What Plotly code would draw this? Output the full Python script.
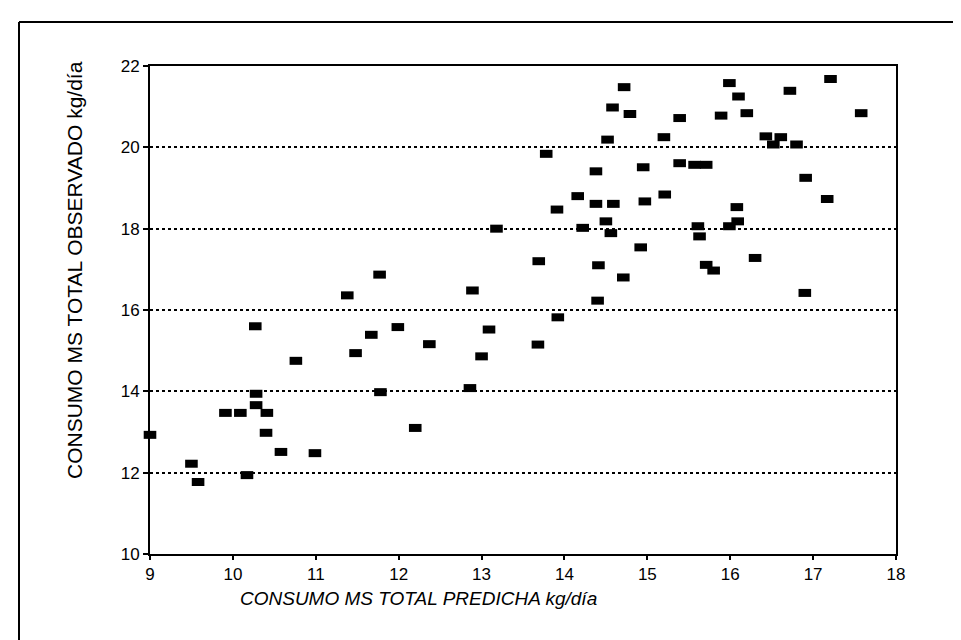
import plotly.graph_objects as go

# Predicted intake (x) and observed intake (y), kg/día
pred = [11.77, 11.38, 12.89, 10.27, 11.67, 11.99, 11.48, 10.76, 12.37, 13.09,
        13.00, 12.86, 11.78, 10.28, 10.28, 9.91, 10.09, 10.41, 12.20, 10.40,
        9.00, 10.58, 10.99, 9.50, 9.58, 10.17, 13.18,
        14.72, 15.99, 17.21, 16.72, 16.10, 14.58, 14.79, 15.39, 15.89, 16.20,
        17.58, 14.52, 15.20, 16.43, 16.61, 16.52, 16.80, 13.78, 14.38, 14.95,
        15.39, 15.57, 15.71, 16.91, 14.16, 13.91, 14.38, 14.59, 14.97, 15.21,
        16.08, 17.17, 14.22, 14.50, 14.56, 15.61, 15.63, 15.99, 16.09, 14.92,
        13.69, 14.41, 15.71, 15.80, 16.30, 14.71, 16.90, 14.40, 13.92, 13.68]
obs = [16.87, 16.36, 16.48, 15.60, 15.39, 15.58, 14.94, 14.75, 15.16, 15.52,
       14.86, 14.08, 13.98, 13.94, 13.66, 13.47, 13.47, 13.47, 13.10, 12.98,
       12.93, 12.51, 12.48, 12.22, 11.77, 11.94, 18.00,
       21.48, 21.58, 21.68, 21.39, 21.25, 20.98, 20.82, 20.72, 20.78, 20.84,
       20.84, 20.19, 20.25, 20.27, 20.25, 20.07, 20.07, 19.84, 19.41, 19.51,
       19.61, 19.57, 19.57, 19.25, 18.80, 18.47, 18.61, 18.61, 18.67, 18.84,
       18.53, 18.73, 18.02, 18.18, 17.89, 18.06, 17.81, 18.06, 18.18, 17.54,
       17.20, 17.10, 17.11, 16.97, 17.28, 16.80, 16.42, 16.23, 15.82, 15.15]

x_ticks = [9, 10, 11, 12, 13, 14, 15, 16, 17, 18]
y_ticks = [10, 12, 14, 16, 18, 20, 22]

x_title = "CONSUMO MS TOTAL PREDICHA kg/día"
y_title = "CONSUMO MS TOTAL OBSERVADO kg/día"

FONT = "Liberation Sans, Arial, sans-serif"

fig = go.Figure()
fig.add_trace(go.Scatter(
    x=pred, y=obs, mode="markers",
    marker=dict(symbol="line-ew", size=9, color="black",
                line=dict(color="black", width=8)),
    hoverinfo="x+y", showlegend=False, cliponaxis=False,
))

L, R, T, B = 142, 888, 58, 546
W, H = 961, 640
pw, ph = R - L, B - T

def px_x(p):
    return (p - L) / pw

def px_y(p):
    return (B - p) / ph

fig.update_layout(
    width=W, height=H,
    margin=dict(l=L, r=W - R, t=T, b=H - B, pad=0),
    paper_bgcolor="white", plot_bgcolor="white",
    font=dict(family=FONT, color="black", size=14),
    xaxis=dict(range=[9, 18], tickvals=x_ticks, ticktext=[str(v) for v in x_ticks],
               showgrid=False, zeroline=False,
               showline=True, linecolor="black", linewidth=2, mirror=True,
               ticks="outside", ticklen=4, tickwidth=1.5, tickcolor="black",
               tickfont=dict(size=17, family=FONT)),
    yaxis=dict(range=[10, 22], tickvals=y_ticks, ticktext=[str(v) for v in y_ticks],
               showgrid=True, gridcolor="black", gridwidth=1.5, griddash="dot",
               zeroline=False,
               showline=True, linecolor="black", linewidth=2, mirror=True,
               ticks="outside", ticklen=5, tickwidth=1.5, tickcolor="black",
               tickfont=dict(size=17, family=FONT)),
    annotations=[
        dict(text="<i>" + x_title + "</i>", xref="paper", yref="paper",
             x=px_x(410), y=px_y(590), xanchor="center", yanchor="middle",
             showarrow=False, font=dict(size=19, family=FONT)),
        dict(text=y_title, xref="paper", yref="paper", textangle=-90,
             x=px_x(66), y=px_y(262), xanchor="center", yanchor="middle",
             showarrow=False, font=dict(size=21, family=FONT)),
    ],
    shapes=[
        dict(type="line", xref="paper", yref="paper",
             x0=px_x(11), x1=px_x(961), y0=px_y(14), y1=px_y(14),
             line=dict(color="black", width=2)),
        dict(type="line", xref="paper", yref="paper",
             x0=px_x(11), x1=px_x(11), y0=px_y(14), y1=px_y(640),
             line=dict(color="black", width=2)),
    ],
)

fig.write_html("out.html")
